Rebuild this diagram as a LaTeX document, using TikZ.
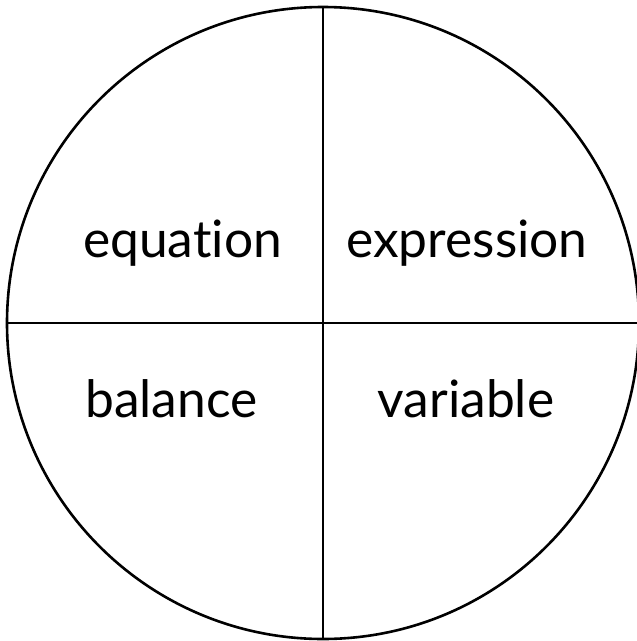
\documentclass[tikz,border=0pt]{standalone}
\usepackage{fontspec}
\setmainfont[Ligatures=NoCommon]{Lato}
\begin{document}
\begin{tikzpicture}[x=1pt,y=-1pt,
  seg/.style={line width=2.6pt, black},
  lbl/.style={font=\fontsize{51.5}{60}\selectfont, inner sep=0pt, anchor=base}]
\useasboundingbox (0,0) rectangle (637,641);
\coordinate (c) at (323,323);
\coordinate (t) at (323,7);
\coordinate (b) at (323,639);
\coordinate (l) at (7,323);
\coordinate (r) at (639,323);
\draw[seg] (c) circle[radius=316pt];
\draw[seg] (t) -- (b);
\draw[seg] (l) -- (r);
\node[lbl] (eq) at (182.5,257) {equation};
\node[lbl] (ex) at (467,257) {expression};
\node[lbl] (ba) at (171.5,417) {balance};
\node[lbl] (va) at (466,417) {variable};
\end{tikzpicture}
\end{document}
